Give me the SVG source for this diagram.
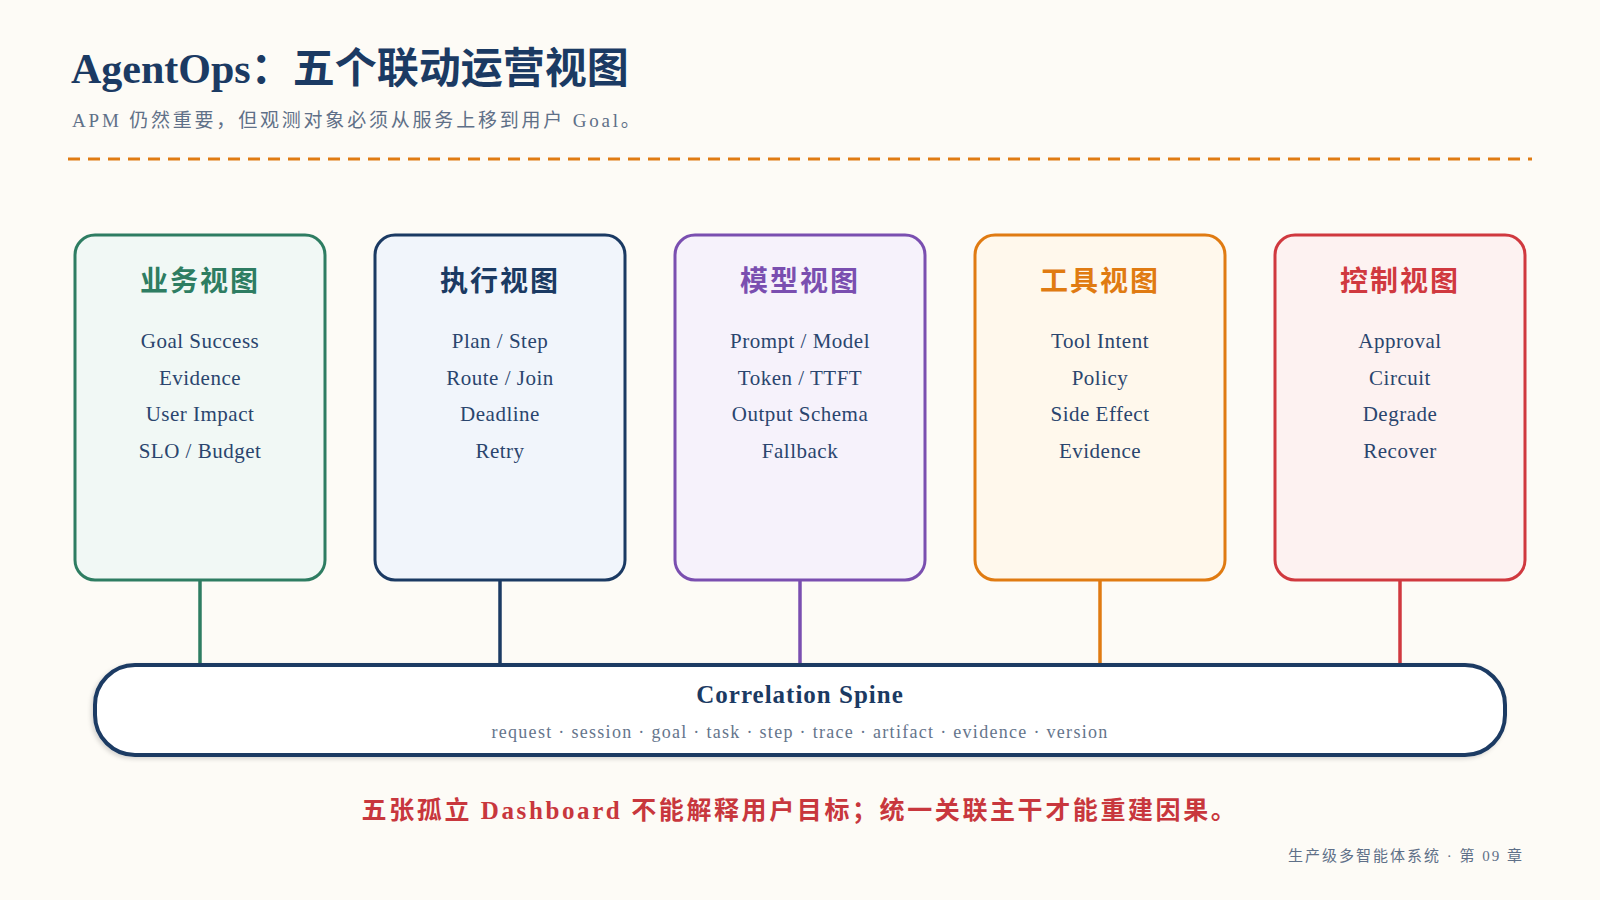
<svg xmlns="http://www.w3.org/2000/svg" width="1600" height="900" viewBox="0 0 1600 900">
  <defs>
    <style>
      .serif { font-family: "Liberation Serif", "Noto Sans CJK SC", serif; }
      .title { font-size: 42px; font-weight: bold; fill: #1b3a63; }
      .subtitle { font-size: 19px; fill: #5f7088; letter-spacing: 2.8px; }
      .card { stroke-width: 3; }
      .ctitle { font-size: 28px; font-weight: bold; text-anchor: middle; letter-spacing: 2px; }
      .item { font-size: 21px; fill: #2a456e; text-anchor: middle; letter-spacing: 0.5px; }
      .conn { stroke-width: 3.5; fill: none; }
      .spine { fill: #ffffff; stroke: #1b3a63; stroke-width: 4; }
      .spineTitle { font-size: 25px; font-weight: bold; fill: #1b3a63; text-anchor: middle; letter-spacing: 1px; }
      .spineSub { font-size: 18px; fill: #65758c; text-anchor: middle; letter-spacing: 1.3px; }
      .note { font-size: 25px; font-weight: bold; fill: #c8373d; text-anchor: middle; letter-spacing: 2.6px; }
      .footer { font-size: 15px; fill: #5f7088; text-anchor: end; letter-spacing: 2px; }
    </style>
    <filter id="shadow" x="-5%" y="-20%" width="110%" height="150%">
      <feDropShadow dx="-2" dy="2" stdDeviation="2" flood-color="#000000" flood-opacity="0.15"/>
    </filter>
  </defs>

  <rect x="0" y="0" width="1600" height="900" fill="#fdfbf6"/>

  <g id="header">
    <text class="serif title" x="71" y="83">AgentOps：五个联动运营视图</text>
    <text class="serif subtitle" x="72" y="127">APM 仍然重要，但观测对象必须从服务上移到用户 Goal。</text>
    <line x1="68" y1="159" x2="1532" y2="159" stroke="#e07b12" stroke-width="3" stroke-dasharray="12 8"/>
  </g>

  <g id="connectors">
    <line class="conn" x1="200" y1="580" x2="200" y2="665" stroke="#2e7d62"/>
    <line class="conn" x1="500" y1="580" x2="500" y2="665" stroke="#1b3a63"/>
    <line class="conn" x1="800" y1="580" x2="800" y2="665" stroke="#7a4fb0"/>
    <line class="conn" x1="1100" y1="580" x2="1100" y2="665" stroke="#e07b12"/>
    <line class="conn" x1="1400" y1="580" x2="1400" y2="665" stroke="#d0393f"/>
  </g>

  <g id="card-business">
    <rect class="card" x="75" y="235" width="250" height="345" rx="20" fill="#f1f8f5" stroke="#2e7d62"/>
    <text class="serif ctitle" x="200" y="291" fill="#2e7d62">业务视图</text>
    <text class="serif item" x="200" y="348">Goal Success</text>
    <text class="serif item" x="200" y="384.5">Evidence</text>
    <text class="serif item" x="200" y="421">User Impact</text>
    <text class="serif item" x="200" y="457.5">SLO / Budget</text>
  </g>

  <g id="card-execution">
    <rect class="card" x="375" y="235" width="250" height="345" rx="20" fill="#f1f5fb" stroke="#1b3a63"/>
    <text class="serif ctitle" x="500" y="291" fill="#1b3a63">执行视图</text>
    <text class="serif item" x="500" y="348">Plan / Step</text>
    <text class="serif item" x="500" y="384.5">Route / Join</text>
    <text class="serif item" x="500" y="421">Deadline</text>
    <text class="serif item" x="500" y="457.5">Retry</text>
  </g>

  <g id="card-model">
    <rect class="card" x="675" y="235" width="250" height="345" rx="20" fill="#f6f2fb" stroke="#7a4fb0"/>
    <text class="serif ctitle" x="800" y="291" fill="#7a4fb0">模型视图</text>
    <text class="serif item" x="800" y="348">Prompt / Model</text>
    <text class="serif item" x="800" y="384.5">Token / TTFT</text>
    <text class="serif item" x="800" y="421">Output Schema</text>
    <text class="serif item" x="800" y="457.5">Fallback</text>
  </g>

  <g id="card-tool">
    <rect class="card" x="975" y="235" width="250" height="345" rx="20" fill="#fff8ec" stroke="#e07b12"/>
    <text class="serif ctitle" x="1100" y="291" fill="#e07b12">工具视图</text>
    <text class="serif item" x="1100" y="348">Tool Intent</text>
    <text class="serif item" x="1100" y="384.5">Policy</text>
    <text class="serif item" x="1100" y="421">Side Effect</text>
    <text class="serif item" x="1100" y="457.5">Evidence</text>
  </g>

  <g id="card-control">
    <rect class="card" x="1275" y="235" width="250" height="345" rx="20" fill="#fdf2f1" stroke="#d0393f"/>
    <text class="serif ctitle" x="1400" y="291" fill="#d0393f">控制视图</text>
    <text class="serif item" x="1400" y="348">Approval</text>
    <text class="serif item" x="1400" y="384.5">Circuit</text>
    <text class="serif item" x="1400" y="421">Degrade</text>
    <text class="serif item" x="1400" y="457.5">Recover</text>
  </g>

  <g id="spine">
    <rect class="spine" x="95" y="665" width="1410" height="90" rx="40" filter="url(#shadow)"/>
    <text class="serif spineTitle" x="800" y="703">Correlation Spine</text>
    <text class="serif spineSub" x="800" y="738">request · session · goal · task · step · trace · artifact · evidence · version</text>
  </g>

  <g id="footer">
    <text class="serif note" x="800" y="819">五张孤立 Dashboard 不能解释用户目标；统一关联主干才能重建因果。</text>
    <text class="serif footer" x="1524" y="861">生产级多智能体系统 · 第 09 章</text>
  </g>
</svg>
